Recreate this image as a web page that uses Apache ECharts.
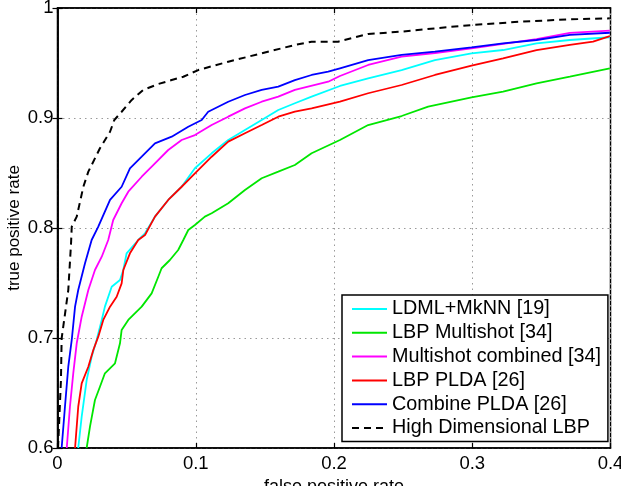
<!DOCTYPE html>
<html><head><meta charset="utf-8">
<script src="https://cdn.jsdelivr.net/npm/echarts@6/dist/echarts.min.js"></script>
<style>html,body{margin:0;padding:0;background:#fff}#c{width:621px;height:486px}</style>
</head><body><div id="c"></div>
<script>
// ---- data ----
const xTicks = [0, 0.1, 0.2, 0.3, 0.4];
const yTicks = [0.6, 0.7, 0.8, 0.9, 1];
const seriesNames = ['LDML+MkNN [19]', 'LBP Multishot [34]', 'Multishot combined [34]', 'LBP PLDA [26]', 'Combine PLDA [26]', 'High Dimensional LBP'];

const ldmlFpr = [0.015,0.0175,0.0211,0.0247,0.0283,0.032,0.0343,0.0392,0.0452,0.0476,0.05,0.0584,0.0633,0.0705,0.0801,0.0898,0.0994,0.1115,0.1235,0.1356,0.1477,0.1597,0.1717,0.1838,0.2043,0.2247,0.2489,0.273,0.2995,0.3223,0.3465,0.3706,0.3995];
const ldmlTpr = [0.6,0.6285,0.6618,0.683,0.6982,0.7164,0.7285,0.7466,0.7527,0.7618,0.777,0.7891,0.7952,0.8103,0.8255,0.8375,0.8543,0.8679,0.88,0.8891,0.8982,0.9073,0.9134,0.9194,0.9291,0.9361,0.9436,0.9527,0.9588,0.9618,0.9679,0.9709,0.9734];

const msFpr = [0.0211,0.0235,0.0271,0.0307,0.0343,0.0416,0.0452,0.0464,0.0512,0.0609,0.0681,0.0729,0.0753,0.0813,0.0873,0.091,0.0946,0.0994,0.1066,0.1115,0.1235,0.1356,0.1477,0.1597,0.1717,0.1838,0.2043,0.2247,0.2489,0.2681,0.2995,0.3223,0.3465,0.3706,0.3995];
const msTpr = [0.6,0.6194,0.6436,0.6557,0.6679,0.677,0.6952,0.7073,0.7164,0.7285,0.7406,0.7557,0.7634,0.7709,0.78,0.7891,0.7982,0.8027,0.8103,0.8134,0.8225,0.8345,0.8452,0.8512,0.8573,0.8679,0.88,0.8936,0.9018,0.9103,0.9188,0.9239,0.9315,0.9376,0.9452];

const mscFpr = [0.0067,0.009,0.0114,0.0139,0.0175,0.0223,0.0271,0.032,0.0367,0.0403,0.0464,0.0512,0.0609,0.0705,0.0801,0.0898,0.0994,0.1115,0.1235,0.1356,0.1477,0.1597,0.1717,0.1958,0.2043,0.2247,0.2489,0.273,0.2995,0.3223,0.3465,0.3706,0.3995];
const mscTpr = [0.6,0.6375,0.6679,0.6952,0.7194,0.7436,0.7618,0.7739,0.7891,0.8073,0.8225,0.833,0.8466,0.8588,0.8709,0.88,0.8845,0.8936,0.9012,0.9088,0.9148,0.9194,0.9255,0.933,0.9382,0.9482,0.9557,0.9591,0.9632,0.9673,0.9718,0.9773,0.9794];

const pldaFpr = [0.0127,0.015,0.0175,0.0223,0.0259,0.0295,0.0331,0.038,0.0428,0.0464,0.0476,0.0524,0.0584,0.0633,0.0705,0.0801,0.0898,0.0994,0.1115,0.1235,0.1356,0.1477,0.1597,0.1717,0.1838,0.2043,0.2247,0.2489,0.273,0.2995,0.3223,0.3465,0.3706,0.3874,0.3995];
const pldaTpr = [0.6,0.6375,0.6588,0.6739,0.6891,0.7012,0.7164,0.7285,0.7375,0.7497,0.7618,0.777,0.7891,0.7936,0.8103,0.8255,0.8375,0.8497,0.8648,0.8785,0.8861,0.8936,0.9012,0.9057,0.9088,0.9148,0.9225,0.93,0.9391,0.9477,0.9543,0.9618,0.9664,0.9694,0.9745];

const cpldaFpr = [0.003,0.0054,0.0078,0.0103,0.0127,0.015,0.0199,0.0247,0.0295,0.038,0.0464,0.0524,0.0609,0.0705,0.0826,0.0946,0.1043,0.109,0.1235,0.1356,0.1477,0.1597,0.1717,0.1838,0.1958,0.2043,0.2247,0.2489,0.273,0.2995,0.3223,0.3465,0.3706,0.3995];
const cpldaTpr = [0.6,0.6375,0.6739,0.6982,0.7285,0.7436,0.7679,0.7891,0.8012,0.8255,0.8375,0.8543,0.8648,0.877,0.883,0.8921,0.8982,0.9057,0.9148,0.9209,0.9255,0.9285,0.9345,0.9391,0.9421,0.9452,0.9527,0.9573,0.9603,0.9643,0.9679,0.9709,0.9755,0.9775];

const hdFpr = [0.0004,0.0025,0.003,0.0078,0.0098,0.0103,0.0139,0.0187,0.0223,0.0307,0.038,0.0411,0.0464,0.0537,0.062,0.0729,0.0826,0.091,0.1018,0.1235,0.1477,0.1717,0.1838,0.203,0.2247,0.2489,0.273,0.2995,0.3344,0.3706,0.3995];
const hdTpr = [0.6,0.6618,0.6997,0.7436,0.7861,0.8012,0.8103,0.8375,0.8512,0.8725,0.8875,0.8982,0.9057,0.9164,0.9255,0.9309,0.9345,0.9375,0.9436,0.9512,0.9588,0.9664,0.9694,0.9694,0.9764,0.9785,0.9815,0.9845,0.9875,0.9897,0.9906];

// ---- build ----
const zip = (xs, ys) => xs.map((x, i) => [x, ys[i]]);
const curves = [
  [ldmlFpr, ldmlTpr, '#00FFFF', 'solid'],
  [msFpr, msTpr, '#00E600', 'solid'],
  [mscFpr, mscTpr, '#FF00FF', 'solid'],
  [pldaFpr, pldaTpr, '#FF0000', 'solid'],
  [cpldaFpr, cpldaTpr, '#0000FF', 'solid'],
  [hdFpr, hdTpr, '#000000', [7, 5]]
];
const FONT = '"Liberation Sans", Arial, Helvetica, sans-serif';
const chart = echarts.init(document.getElementById('c'), null, {renderer: 'canvas'});
const gridLine = {show: true, lineStyle: {color: '#9a9a9a', width: 1, type: [1.5, 4]}};
const tickIn = {show: true, inside: true, length: 5, lineStyle: {color: '#000', width: 1.2}};
chart.setOption({
  animation: false,
  backgroundColor: '#fff',
  textStyle: {fontFamily: FONT},
  grid: {left: 57.5, right: 10.5, top: 8, bottom: 38, containLabel: false, outerBoundsMode: 'none',
    show: true, borderColor: '#000', borderWidth: 1.5, backgroundColor: 'transparent'},
  legend: {
    orient: 'vertical', left: 342, top: 295,
    data: seriesNames,
    itemWidth: 35, itemHeight: 14, itemGap: 3.8,
    padding: [4, 7, 3.5, 9],
    itemStyle: {opacity: 0},
    backgroundColor: '#fff', borderColor: '#000', borderWidth: 1.5,
    textStyle: {fontSize: 19.8, lineHeight: 20, color: '#000', fontFamily: FONT}
  },
  xAxis: [{
    type: 'value', min: xTicks[0], max: xTicks[xTicks.length - 1], interval: 0.1,
    name: 'false positive rate', nameLocation: 'middle', nameGap: 30, nameMoveOverlap: false,
    nameTextStyle: {fontSize: 18, color: '#000', fontFamily: FONT},
    axisLine: {show: true, lineStyle: {color: '#000', width: 1.5}},
    axisTick: tickIn, splitLine: gridLine,
    axisLabel: {fontSize: 18.5, color: '#000', margin: 6, fontFamily: FONT}
  }, {
    type: 'value', position: 'top', min: xTicks[0], max: xTicks[xTicks.length - 1], interval: 0.1,
    axisLine: {show: true, lineStyle: {color: '#000', width: 1.5}},
    axisTick: tickIn, splitLine: {show: false}, axisLabel: {show: false}
  }],
  yAxis: [{
    type: 'value', min: yTicks[0], max: yTicks[yTicks.length - 1], interval: 0.1,
    name: 'true positive rate', nameLocation: 'middle', nameGap: 35, nameMoveOverlap: false,
    nameTextStyle: {fontSize: 17, color: '#000', fontFamily: FONT},
    axisLine: {show: true, lineStyle: {color: '#000', width: 1.5}},
    axisTick: tickIn, splitLine: gridLine,
    axisLabel: {fontSize: 18.5, color: '#000', margin: 4, fontFamily: FONT,
      formatter: v => String(Math.round(v * 10) / 10)}
  }, {
    type: 'value', position: 'right', min: yTicks[0], max: yTicks[yTicks.length - 1], interval: 0.1,
    axisLine: {show: true, lineStyle: {color: '#000', width: 1.5}},
    axisTick: tickIn, splitLine: {show: false}, axisLabel: {show: false}
  }],
  series: curves.map((c, i) => ({
    name: seriesNames[i], type: 'line', xAxisIndex: 0, yAxisIndex: 0,
    data: zip(c[0], c[1]), showSymbol: false, symbol: 'none',
    lineStyle: {color: c[2], width: i === 5 ? 2 : 1.8, type: c[3]},
    itemStyle: {color: c[2]},
    z: 2 + i
  }))
});
</script></body></html>
